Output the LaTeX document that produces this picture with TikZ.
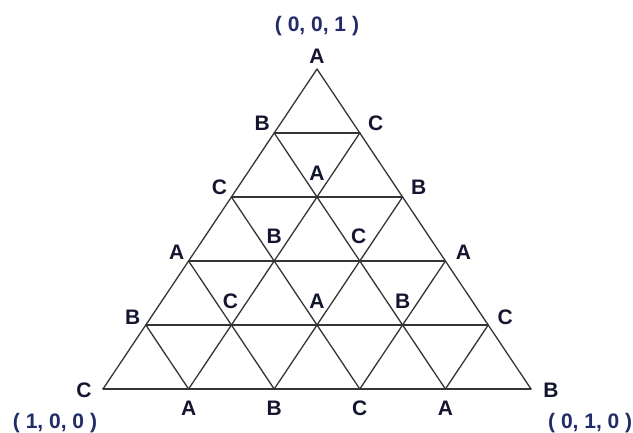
\documentclass[tikz,border=0pt]{standalone}
\usepackage{fontspec}
\setmainfont{Liberation Sans}
\definecolor{GridGray}{RGB}{52,52,52}
\definecolor{LabelInk}{RGB}{20,22,48}
\definecolor{CoordInk}{RGB}{34,44,104}
\tikzset{
  gridline/.style={draw=GridGray,line width=1.3pt,line cap=round},
  vlabel/.style={text=LabelInk,inner sep=0pt,font=\fontsize{21}{21}\selectfont\bfseries},
  coordlabel/.style={text=CoordInk,inner sep=0pt,font=\fontsize{21}{21}\selectfont\bfseries},
}

\begin{document}
\begin{tikzpicture}[x=1pt,y=-1pt]
  \useasboundingbox (0,0) rectangle (633,433);
  % lattice points: row r from the apex, position k from the left
  \foreach \r in {0,...,5}{
    \foreach \k in {0,...,\r}{
      \coordinate (p-\r-\k) at ({317+(2*\k-\r)*42.8},{69+64*\r});
    }
  }
  % rows
  \foreach \r in {1,...,5}
    \draw[gridline] (p-\r-0) -- (p-\r-\r);
  % lines parallel to the left side
  \foreach \k in {0,...,4}
    \draw[gridline] (p-\k-\k) -- (p-5-\k);
  % lines parallel to the right side
  \foreach \m in {0,...,4}{
    \pgfmathtruncatemacro{\e}{5-\m}
    \draw[gridline] (p-\m-0) -- (p-5-\e);
  }
  % vertex labels
  \foreach \r/\k/\t/\dx/\dy in {
      0/0/A/0/-13,
      1/0/B/-12/-10, 1/1/C/16/-10,
      2/0/C/-12/-10, 2/1/A/0/-24, 2/2/B/16/-10,
      3/0/A/-12/-9, 3/1/B/0/-25, 3/2/C/-1/-25, 3/3/A/18/-9,
      4/0/B/-13/-8, 4/1/C/-1/-24, 4/2/A/0/-24, 4/3/B/0/-24, 4/4/C/17/-8,
      5/0/C/-19/1, 5/1/A/0/19, 5/2/B/0/19, 5/3/C/0/19, 5/4/A/0/19, 5/5/B/20/1}
    \node[vlabel] (l-\r-\k) at ([shift={(\dx,\dy)}]p-\r-\k) {\t};
  % corner coordinates
  \node[coordlabel] (c-top) at ([shift={(0,-43)}]p-0-0) {( 0, 0, 1 )};
  \node[coordlabel] (c-left) at ([shift={(-48,34)}]p-5-0) {( 1, 0, 0 )};
  \node[coordlabel,anchor=west] (c-right) at ([shift={(17,34)}]p-5-5) {( 0, 1, 0 )};
\end{tikzpicture}
\end{document}
